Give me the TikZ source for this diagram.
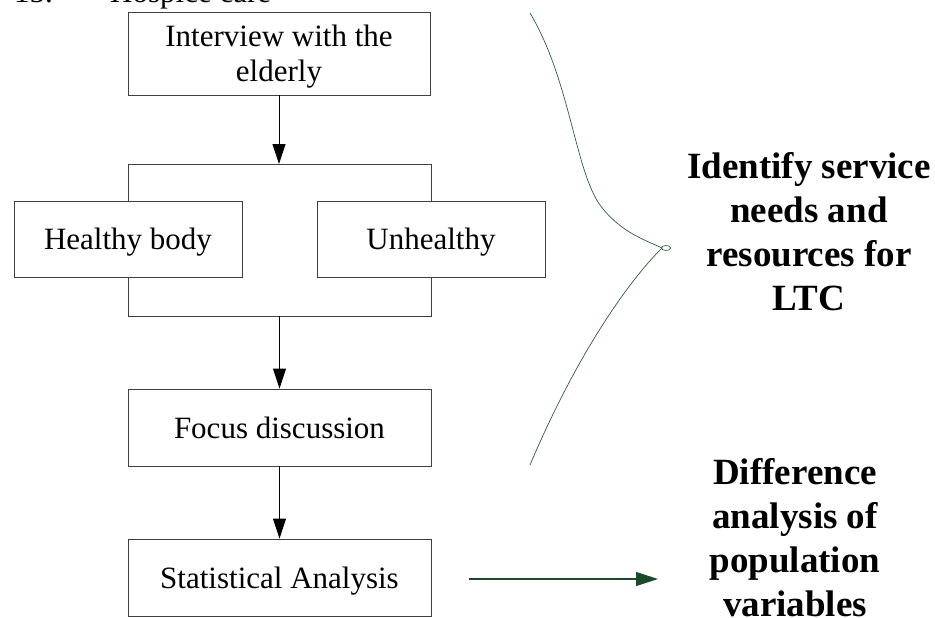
\documentclass[tikz,border=0pt]{standalone}
\usepackage{fontspec}
\setmainfont{Liberation Serif}
\usetikzlibrary{arrows.meta}
\definecolor{curvegreen}{HTML}{2E5E3E}
\definecolor{arrowgreen}{HTML}{1B4A2B}
\tikzset{
  box/.style={draw=black!75, line width=0.9pt, inner sep=0pt, text depth=0pt,
    font=\fontsize{31}{35.4}\selectfont, align=center},
  link/.style={draw=black!75, line width=0.9pt},
  flow/.style={draw=black, line width=0.9pt, -{Triangle[length=20pt,width=13pt]}},
  bigtext/.style={font=\fontsize{37}{44}\selectfont\bfseries, align=center, inner sep=0pt},
  brace/.style={draw=curvegreen, line width=0.7pt},
  result/.style={draw=arrowgreen, line width=1.1pt, -{Triangle[length=22pt,width=14pt]}},
  plain/.style={font=\fontsize{31}{35.4}\selectfont, inner sep=0pt}
}
\begin{document}
\begin{tikzpicture}[x=1pt,y=-1pt]
\useasboundingbox (0,0) rectangle (935,618);
% partially visible heading
\node[plain, anchor=base west] (num) at (14,3) {15.};
\node[plain, anchor=base west] (hosp) at (110,3) {Hospice care};
% boxes
\node[box, minimum width=302pt, minimum height=83pt] (iv) at (279,53.5) {Interview with the\\elderly};
\node[box, minimum width=228pt, minimum height=76pt] (hb) at (128,239) {Healthy body};
\node[box, minimum width=228pt, minimum height=76pt] (uh) at (431,239) {Unhealthy};
\node[box, minimum width=303pt, minimum height=77pt] (fd) at (279.5,427.5) {Focus discussion};
\node[box, minimum width=303pt, minimum height=77pt] (sa) at (279.5,577.5) {Statistical Analysis};
% junction coordinates
\coordinate (tsplit) at (279,164);
\coordinate (tl) at (128,164);
\coordinate (tr) at (431,164);
\coordinate (bl) at (128,316);
\coordinate (br) at (431,316);
\coordinate (bjoin) at (279.5,316);
% connectors
\draw[flow] (iv.south) -- (tsplit);
\draw[link] (hb.north) -- (tl) -- (tr) -- (uh.north);
\draw[link] (hb.south) -- (bl) -- (br) -- (uh.south);
\draw[flow] (bjoin) -- (fd.north);
\draw[flow] (fd.south) -- (sa.north);
% right texts
\node[bigtext] (need) at (809,232) {Identify service\\needs and\\resources for\\LTC};
\node[bigtext] (diff) at (795,538) {Difference\\analysis of\\population\\variables};
% brace-like curve
\coordinate (ctop) at (530,13);
\coordinate (cmid) at (600,205);
\coordinate (ctip) at (662,248);
\coordinate (cbot) at (530,465);
\draw[brace] (ctop) .. controls (570,80) and (575,170) .. (cmid)
  .. controls (620,232) and (645,240) .. (ctip);
\draw[brace] (666,248) ellipse [x radius=4.5pt, y radius=2.5pt];
\draw[brace] (ctip) .. controls (620,290) and (570,370) .. (cbot);
% result arrow
\coordinate (rs) at (469,579);
\coordinate (re) at (658,579);
\draw[result] (rs) -- (re);
\end{tikzpicture}
\end{document}
